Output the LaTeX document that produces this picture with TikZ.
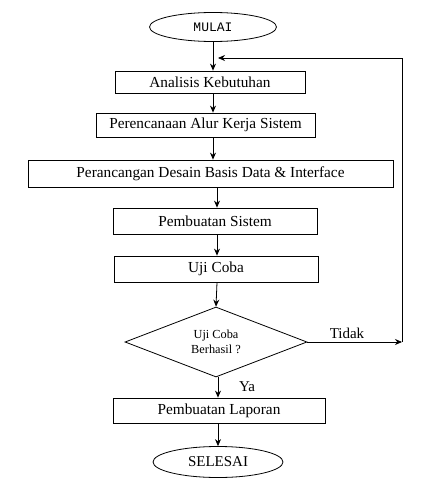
\documentclass[tikz,border=0pt]{standalone}
\usepackage{fontspec}
\setmainfont{Liberation Serif}
\newfontfamily\monofont{Liberation Mono}
\usetikzlibrary{shapes.geometric,arrows.meta}
\begin{document}
\begin{tikzpicture}[x=1pt,y=-1pt,
  box/.style={draw,line width=0.8pt,rectangle,inner sep=0pt,font=\fontsize{15.3}{17}\selectfont},
  term/.style={draw,line width=0.8pt,ellipse,inner sep=0pt},
  decide/.style={draw,line width=0.8pt,diamond,inner sep=0pt,minimum width=182pt,minimum height=70pt,aspect=2.6,font=\fontsize{12.3}{14.5}\selectfont,align=center},
  arr/.style={line width=0.8pt,-{Stealth[length=7pt,width=6pt]}},
  lbl/.style={font=\fontsize{15}{17}\selectfont,inner sep=0pt}]
\useasboundingbox (0,0) rectangle (438,479);
\node[term,minimum width=127pt,minimum height=29pt,font=\monofont\fontsize{13}{15}\selectfont] (mulai) at (213,27) {MULAI};
\node[box,minimum width=190pt,minimum height=22pt] (analisis) at (210,82) {Analisis Kebutuhan};
\node[box,minimum width=219pt,minimum height=24pt] (alur) at (205.5,125) {Perencanaan Alur Kerja Sistem};
\node[box,minimum width=365pt,minimum height=27pt] (desain) at (210.5,173.5) {Perancangan Desain Basis Data \& Interface};
\node[box,minimum width=204pt,minimum height=26pt] (buat) at (215,221) {Pembuatan Sistem};
\node[box,minimum width=204pt,minimum height=26pt] (uji) at (216,269) {Uji Coba};
\node[decide] (cek) at (216,342) {Uji Coba\\Berhasil ?};
\node[box,minimum width=212pt,minimum height=25pt] (lapor) at (219,410.5) {Pembuatan Laporan};
\node[term,minimum width=130pt,minimum height=31pt,font=\fontsize{15}{17}\selectfont] (selesai) at (218,462) {SELESAI};
\coordinate (c1) at (213,0);
\coordinate (c2) at (217,0);
\coordinate (c3) at (218,0);
\coordinate (r1) at (402,342);
\coordinate (r2) at (402,58);
\coordinate (fb) at (218,58);
\draw[arr] (c1 |- mulai.south) -- (c1 |- analisis.north);
\draw[arr] (c1 |- analisis.south) -- (c1 |- alur.north);
\draw[arr] (c1 |- alur.south) -- (c1 |- desain.north);
\draw[arr] (c2 |- desain.south) -- (c2 |- buat.north);
\draw[arr] (c2 |- buat.south) -- (c2 |- uji.north);
\draw[arr] (c2 |- uji.south) -- (cek.north);
\draw[arr] (c3 |- cek.south) -- (c3 |- lapor.north);
\draw[arr] (c3 |- lapor.south) -- (c3 |- selesai.north);
\draw[arr] (cek.east) -- (r1);
\draw[arr] (r1) -- (r2) -- (fb);
\node[lbl] (tidak) at (347,333) {Tidak};
\node[lbl] (ya) at (247,387) {Ya};
\end{tikzpicture}
\end{document}
